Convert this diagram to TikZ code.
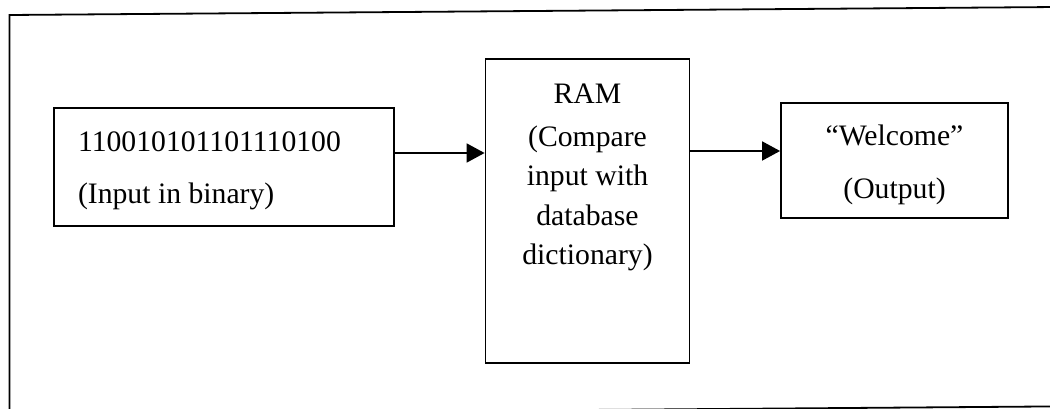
\documentclass[tikz,border=0pt]{standalone}
\usepackage{fontspec}
\setmainfont{Liberation Serif}
\usetikzlibrary{arrows.meta}
\begin{document}
\begin{tikzpicture}[x=1pt,y=-1pt,
  boxstyle/.style={draw,line width=1.8pt,inner sep=0pt,rectangle},
  arr/.style={line width=1.8pt,-{Triangle[length=18pt,width=19pt]}},
  frameline/.style={line width=1.8pt},
  every node/.style={font=\fontsize{29.7pt}{48pt}\selectfont}]
\useasboundingbox (0,0) rectangle (1050,409);
% outer frame (slightly tilted, cropped)
\draw[frameline] (1070,406.3) -- (9.5,414.4) -- (9.5,15) -- (1070,6.9);
% boxes
\node[boxstyle, minimum width=340pt, minimum height=118pt] (in) at (224,167)
  {\parbox[c][70pt][t]{292pt}{\raggedright 110010101101110100\\[4pt](Input in binary)}};
\node[boxstyle, minimum width=204pt, minimum height=304pt] (ram) at (587.5,211)
  {\parbox[c][254pt][t]{190pt}{\centering\fontsize{29.7pt}{39.5pt}\selectfont RAM\\[3pt](Compare\\input with\\database\\dictionary)}};
\node[boxstyle, minimum width=227pt, minimum height=115pt] (out) at (894.5,160.5)
  {\parbox[c][71pt][t]{200pt}{\centering “Welcome”\\[5pt](Output)}};
% connectors
\coordinate (a1) at ([yshift=14pt]in.east);
\draw[arr] (a1) -- (a1 -| ram.west);
\coordinate (a2) at ([yshift=9.5pt]out.west);
\draw[arr] (a2 -| ram.east) -- (a2);
\end{tikzpicture}
\end{document}
